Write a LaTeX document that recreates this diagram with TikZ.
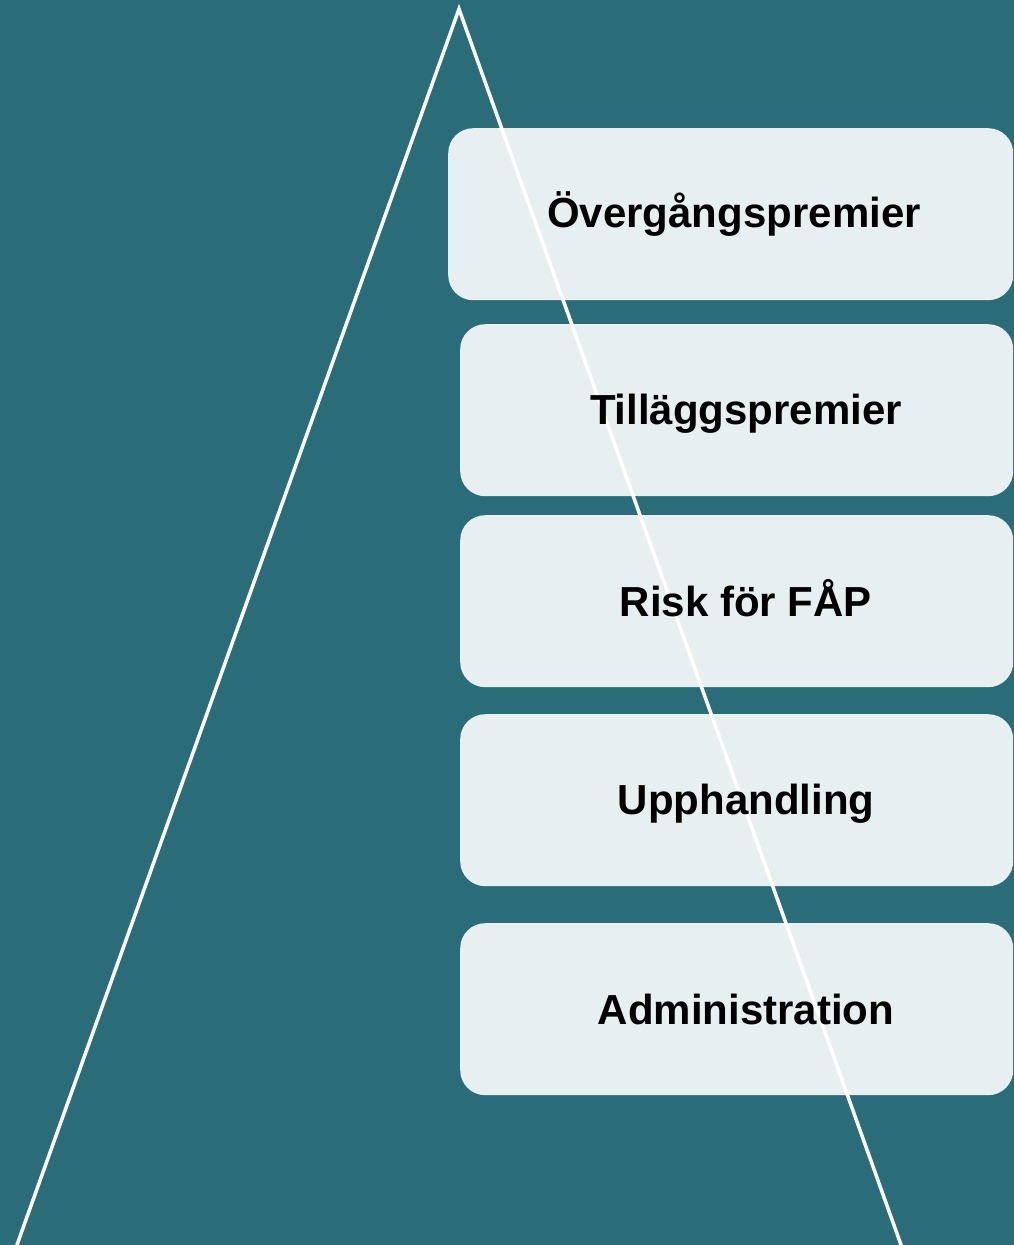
\documentclass[tikz,border=0pt]{standalone}
\usepackage{fontspec}
\setmainfont{Liberation Sans}
\usetikzlibrary{positioning}
\definecolor{tealbg}{HTML}{2A6C78}
\definecolor{boxgray}{HTML}{E7EFF1}
\tikzstyle{level_box} = [
    rectangle,
    rounded corners=25pt,
    fill=boxgray,
    draw=none,
    anchor=north west,
    inner sep=0pt,
    minimum height=172pt
]
\tikzstyle{level_text} = [
    black,
    font=\fontsize{42}{50}\selectfont\bfseries,
    align=center,
    inner sep=0pt
]

\begin{document}
\begin{tikzpicture}[x=1pt, y=-1pt]
\fill[tealbg] (0,0) rectangle (1014,1245);
\useasboundingbox (0,0) rectangle (1014,1245);
\clip (0,0) rectangle (1014,1245);
% boxes
\node [level_box, minimum width=565pt] (b1) at (448,128) {};
\node [level_box, minimum width=553pt] (b2) at (460,324) {};
\node [level_box, minimum width=553pt] (b3) at (460,515) {};
\node [level_box, minimum width=553pt] (b4) at (460,714) {};
\node [level_box, minimum width=553pt] (b5) at (460,923) {};
% triangle
\coordinate (apex) at (459,9);
\coordinate (left) at (8,1270);
\coordinate (right) at (910,1270);
\draw [white, line width=3.5pt, miter limit=20] (left) -- (apex) -- (right);
% labels
\node [level_text] (t1) at (734,214) {Övergångspremier};
\node [level_text] (t2) at (746,414) {Tilläggspremier};
\node [level_text] (t3) at (746,598) {Risk för FÅP};
\node [level_text] (t4) at (746,804) {Upphandling};
\node [level_text] (t5) at (746,1009) {Administration};
\end{tikzpicture}
\end{document}
